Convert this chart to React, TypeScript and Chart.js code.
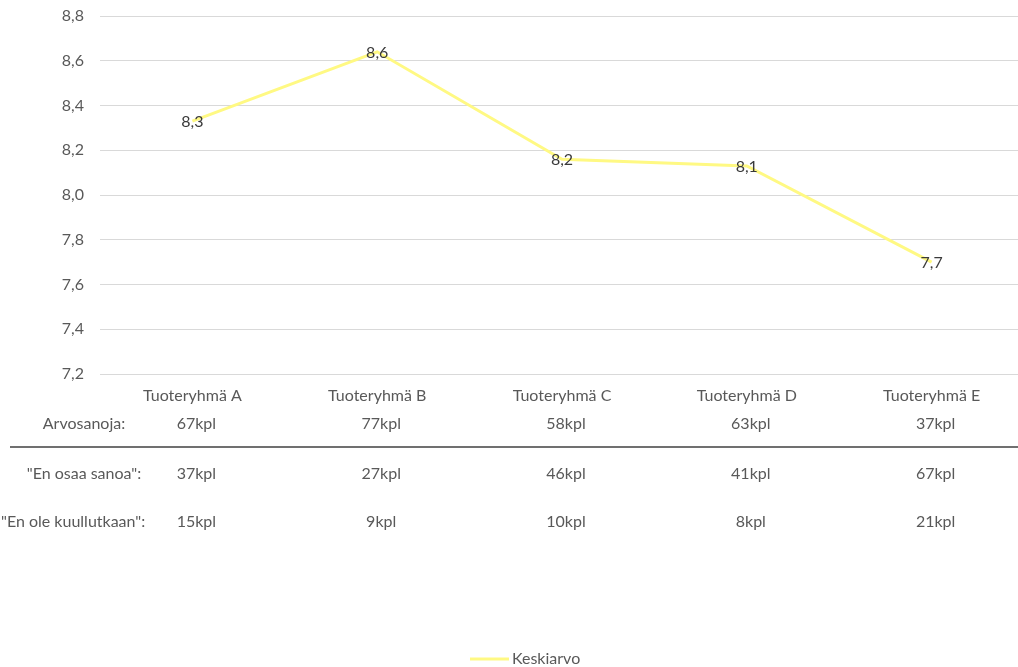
import React, { useEffect, useRef } from "react";
import { Chart, registerables } from "chart.js";

Chart.register(...registerables);

// Product groups and their average ratings
const categories = ["Tuoteryhmä A", "Tuoteryhmä B", "Tuoteryhmä C", "Tuoteryhmä D", "Tuoteryhmä E"];
const averages = [8.33, 8.64, 8.16, 8.13, 7.7];

// Answer counts shown in the table under the axis
const gradedCounts = [67, 77, 58, 63, 37];
const cannotSayCounts = [37, 27, 46, 41, 67];
const neverHeardCounts = [15, 9, 10, 8, 21];
const rowLabels = ["Arvosanoja:", "\"En osaa sanoa\":", "\"En ole kuullutkaan\":"];

const seriesLabel = "Keskiarvo";
const yMin = 7.2;
const yMax = 8.8;
const yStep = 0.2;

const FONT = "Lato, 'Open Sans', sans-serif";
const FONT_SIZE = 16;
const LINE_COLOR = "#FFF983";
const TEXT_GRAY = "#595959";

const fmt = (v: number) => v.toFixed(1).replace(".", ",");

const tablePlugin = {
  id: "tableAndLabels",
  afterDraw(chart: any) {
    const ctx = chart.ctx as CanvasRenderingContext2D;
    const x = chart.scales.x;
    const meta = chart.getDatasetMeta(0);

    // value labels centred on the points
    ctx.save();
    ctx.font = `${FONT_SIZE}px ${FONT}`;
    ctx.fillStyle = "#3A3A3A";
    ctx.textAlign = "center";
    ctx.textBaseline = "middle";
    meta.data.forEach((pt: any, i: number) => {
      ctx.fillText(fmt(averages[i]), pt.x, pt.y + 1);
    });
    ctx.restore();

    // table rows
    ctx.save();
    ctx.font = `${FONT_SIZE}px ${FONT}`;
    ctx.fillStyle = TEXT_GRAY;
    ctx.textBaseline = "middle";
    const rows = [
      { y: 424, values: gradedCounts, labelX: 84, align: "center" },
      { y: 474, values: cannotSayCounts, labelX: 84, align: "center" },
      { y: 522, values: neverHeardCounts, labelX: 1, align: "left" },
    ];
    rows.forEach((row, r) => {
      ctx.textAlign = row.align as CanvasTextAlign;
      ctx.fillText(rowLabels[r], row.labelX, row.y);
      ctx.textAlign = "center";
      row.values.forEach((v, i) => {
        ctx.fillText(`${v}kpl`, x.getPixelForValue(i) + 4, row.y);
      });
    });

    // separator between graded and non-graded answers
    ctx.strokeStyle = "#404040";
    ctx.lineWidth = 1.5;
    ctx.beginPath();
    ctx.moveTo(10, 447);
    ctx.lineTo(chart.width, 447);
    ctx.stroke();

    // legend
    ctx.strokeStyle = LINE_COLOR;
    ctx.lineWidth = 3;
    ctx.beginPath();
    ctx.moveTo(470, 659);
    ctx.lineTo(509, 659);
    ctx.stroke();
    ctx.textAlign = "left";
    ctx.fillStyle = TEXT_GRAY;
    ctx.fillText(seriesLabel, 512, 659);
    ctx.restore();
  },
};

export default function App() {
  const canvasRef = useRef<HTMLCanvasElement | null>(null);

  useEffect(() => {
    if (!canvasRef.current) return;
    const chart = new Chart(canvasRef.current, {
      type: "line",
      data: {
        labels: categories,
        datasets: [
          {
            label: seriesLabel,
            data: averages,
            borderColor: LINE_COLOR,
            backgroundColor: LINE_COLOR,
            borderWidth: 3,
            pointRadius: 0,
            pointHoverRadius: 0,
            tension: 0,
          },
        ],
      },
      options: {
        responsive: false,
        animation: false,
        devicePixelRatio: 1,
        layout: { padding: { top: 16, right: 0, bottom: 0, left: 0 } },
        plugins: {
          legend: { display: false },
          tooltip: { enabled: false },
        },
        scales: {
          x: {
            offset: true,
            grid: { display: false, drawTicks: false },
            border: { display: false },
            ticks: {
              color: TEXT_GRAY,
              font: { family: FONT, size: FONT_SIZE },
              padding: 12,
              maxRotation: 0,
              autoSkip: false,
            },
            afterFit: (scale: any) => {
              scale.height = 667 - 374;
            },
          },
          y: {
            min: yMin,
            max: yMax,
            grid: { color: "#D9D9D9", lineWidth: 1, drawTicks: false },
            border: { display: false },
            ticks: {
              stepSize: yStep,
              color: TEXT_GRAY,
              font: { family: FONT, size: FONT_SIZE },
              padding: 16,
              callback: (v: any) => fmt(Number(v)),
            },
            afterFit: (scale: any) => {
              scale.width = 100;
              scale.paddingTop = 0;
              scale.paddingBottom = 0;
            },
          },
        },
      },
      plugins: [tablePlugin],
    });
    return () => chart.destroy();
  }, []);

  return (
    <div
      style={{
        position: "absolute",
        left: 0,
        top: 0,
        width: 1018,
        height: 667,
        overflow: "hidden",
        background: "#ffffff",
      }}
    >
      <canvas ref={canvasRef} width={1024} height={667} style={{ width: 1024, height: 667, display: "block" }} />
    </div>
  );
}
